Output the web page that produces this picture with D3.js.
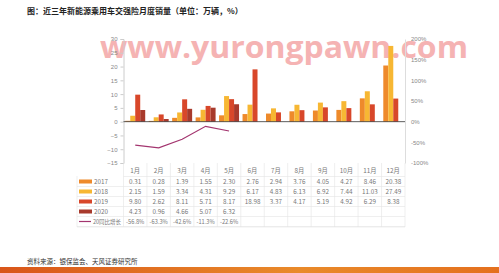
<!DOCTYPE html>
<html>
<head>
<meta charset="utf-8">
<script src="https://cdn.jsdelivr.net/npm/d3@7"></script>
<style>
  body { margin: 0; background: #fff; }
  svg { display: block; font-family: "Noto Sans CJK SC", "Noto Sans", sans-serif; }
</style>
</head>
<body>
<div id="chart"></div>
<script>
const months = ['1月','2月','3月','4月','5月','6月','7月','8月','9月','10月','11月','12月'];
const seriesNames = ['2017','2018','2019','2020'];
const sales2017 = [0.31,0.28,1.39,1.55,2.30,2.76,2.94,3.76,4.05,4.27,8.46,20.38];
const sales2018 = [2.15,1.59,3.34,4.31,9.29,6.17,4.83,6.13,6.92,7.44,11.03,27.49];
const sales2019 = [9.80,2.62,8.11,5.71,8.17,18.98,3.37,4.17,5.19,4.92,6.29,8.38];
const sales2020 = [4.23,0.96,4.66,5.07,6.32];
const growth2020 = [-56.8,-63.3,-42.6,-11.3,-22.6];
const leftTicks = [-15,-10,-5,0,5,10,15,20,25,30];
const rightTicks = [-100,-50,0,50,100,150,200];
const growthName = '20同比增长';

const colors = ['#EE8A2B','#F7B733','#D8472A','#A83A2C'];
const lineColor = '#A3356F';

const width = 499, height = 273;
const svg = d3.select('#chart').append('svg')
  .attr('width', width).attr('height', height);

// title
svg.append('text')
  .attr('x', 27).attr('y', 14)
  .attr('font-size', 8).attr('font-weight', 'bold').attr('fill', '#222')
  .text('图：近三年新能源乘用车交强险月度销量（单位：万辆，%）');

const plotLeft = 123.5, plotRight = 405, plotTop = 39, plotBottom = 163;

const x = d3.scaleBand().domain(months).range([plotLeft, plotRight]);
const xs = d3.scaleBand().domain(seriesNames).range([0, x.bandwidth()]).paddingOuter(0.35).paddingInner(0);
const y = d3.scaleLinear().domain([-15, 30]).range([plotBottom, plotTop]);
const y2 = d3.scaleLinear().domain([-100, 200]).range([plotBottom, plotTop]);

// watermark (drawn first so axis labels stay on top)
svg.append('text')
  .attr('x', 100).attr('y', 58)
  .attr('font-size', 31).attr('font-weight', 'bold').attr('fill', '#F29A9A').attr('opacity', 0.75)
  .attr('font-family', '"Open Sans", "Noto Sans", sans-serif')
  .attr('textLength', 368).attr('lengthAdjust', 'spacingAndGlyphs')
  .text('www.yurongpawn.com');

// left axis
const ga = svg.append('g').attr('transform', `translate(${plotLeft},0)`)
  .call(d3.axisLeft(y).tickValues(leftTicks).tickSize(3).tickPadding(3));
ga.select('.domain').attr('stroke', '#ccc');
ga.selectAll('.tick line').attr('stroke', '#ccc');
ga.selectAll('text').attr('font-size', 6).attr('fill', '#888');

// right axis
const gr = svg.append('g').attr('transform', `translate(${plotRight},0)`)
  .call(d3.axisRight(y2).tickValues(rightTicks).tickSize(0).tickPadding(6).tickFormat(d => d + '%'));
gr.select('.domain').attr('stroke', '#ddd');
gr.selectAll('text').attr('font-size', 6).attr('fill', '#888');

// bars
const allSeries = [sales2017, sales2018, sales2019, sales2020];
allSeries.forEach((vals, si) => {
  svg.append('g').selectAll('rect')
    .data(vals)
    .enter().append('rect')
    .attr('x', (d, i) => x(months[i]) + xs(seriesNames[si]))
    .attr('width', xs.bandwidth())
    .attr('y', d => y(Math.max(0, d)))
    .attr('height', d => Math.abs(y(d) - y(0)))
    .attr('fill', colors[si]);
});

// zero line
svg.append('line')
  .attr('x1', plotLeft).attr('x2', plotRight)
  .attr('y1', y(0)).attr('y2', y(0))
  .attr('stroke', '#333').attr('stroke-width', 0.8);

// growth line
const line = d3.line()
  .x((d, i) => x(months[i]) + x.bandwidth() / 2)
  .y(d => y2(d));
svg.append('path')
  .datum(growth2020)
  .attr('d', line)
  .attr('fill', 'none')
  .attr('stroke', lineColor)
  .attr('stroke-width', 1.2);

// data table
const tableLeft = 77, rowH = 10, tableTop = plotBottom + 2;
const rows = [
  {name: seriesNames[0], vals: sales2017, color: colors[0], fmt: d => d.toFixed(2)},
  {name: seriesNames[1], vals: sales2018, color: colors[1], fmt: d => d.toFixed(2)},
  {name: seriesNames[2], vals: sales2019, color: colors[2], fmt: d => d.toFixed(2)},
  {name: seriesNames[3], vals: sales2020, color: colors[3], fmt: d => d.toFixed(2)},
  {name: growthName, vals: growth2020, color: lineColor, fmt: d => d.toFixed(1) + '%', isLine: true}
];
const tbl = svg.append('g');
const gridColor = '#e4e4e4';
const tableBottom = tableTop + rowH * (rows.length + 1) + 2;

// vertical grid
months.forEach(m => {
  tbl.append('line')
    .attr('x1', x(m)).attr('x2', x(m))
    .attr('y1', plotBottom).attr('y2', tableBottom)
    .attr('stroke', gridColor).attr('stroke-width', 0.6);
});
tbl.append('line')
  .attr('x1', plotRight).attr('x2', plotRight)
  .attr('y1', plotBottom).attr('y2', tableBottom)
  .attr('stroke', gridColor).attr('stroke-width', 0.6);
tbl.append('line')
  .attr('x1', tableLeft).attr('x2', tableLeft)
  .attr('y1', tableTop + rowH + 1).attr('y2', tableBottom)
  .attr('stroke', gridColor).attr('stroke-width', 0.6);

// horizontal grid
d3.range(rows.length + 1).forEach(r => {
  const yy = tableTop + rowH * (r + 1) + 1.5;
  tbl.append('line')
    .attr('x1', r === 0 ? plotLeft : tableLeft).attr('x2', plotRight)
    .attr('y1', yy).attr('y2', yy)
    .attr('stroke', gridColor).attr('stroke-width', 0.6);
});
tbl.append('line')
  .attr('x1', tableLeft).attr('x2', plotRight)
  .attr('y1', tableBottom).attr('y2', tableBottom)
  .attr('stroke', gridColor).attr('stroke-width', 0.6);

// header
tbl.selectAll('.hdr').data(months).enter().append('text')
  .attr('x', d => x(d) + x.bandwidth() / 2)
  .attr('y', tableTop + rowH / 2 + 2.5)
  .attr('text-anchor', 'middle')
  .attr('font-size', 6.3).attr('fill', '#777')
  .text(d => d);

rows.forEach((row, r) => {
  const cy = tableTop + rowH * (r + 1) + rowH / 2 + 1.5;
  if (row.isLine) {
    tbl.append('line')
      .attr('x1', tableLeft + 2).attr('x2', tableLeft + 14)
      .attr('y1', cy).attr('y2', cy)
      .attr('stroke', row.color).attr('stroke-width', 1.2);
  } else {
    tbl.append('rect')
      .attr('x', tableLeft + 2).attr('y', cy - 2)
      .attr('width', 13).attr('height', 4)
      .attr('fill', row.color);
  }
  const lbl = tbl.append('text')
    .attr('x', tableLeft + (row.isLine ? 16 : 17)).attr('y', cy + 2.3)
    .attr('font-size', row.isLine ? 5.6 : 6.3).attr('fill', '#777')
    .text(row.name);
  if (row.isLine) lbl.attr('textLength', 28).attr('lengthAdjust', 'spacingAndGlyphs');
  tbl.selectAll(null).data(row.vals).enter().append('text')
    .attr('x', (d, i) => x(months[i]) + x.bandwidth() / 2)
    .attr('y', cy + 2.3)
    .attr('text-anchor', 'middle')
    .attr('font-size', row.isLine ? 5.7 : 6.3).attr('fill', '#777')
    .text(row.fmt);
});

// source
svg.append('text')
  .attr('x', 27).attr('y', 264)
  .attr('font-size', 6.5).attr('fill', '#333')
  .text('资料来源：银保监会、天风证券研究所');

// bottom band
const grad = svg.append('defs').append('linearGradient').attr('id', 'band');
grad.append('stop').attr('offset', '0%').attr('stop-color', '#D9561A');
grad.append('stop').attr('offset', '60%').attr('stop-color', '#E98A2A');
grad.append('stop').attr('offset', '100%').attr('stop-color', '#E4701E');
svg.append('rect')
  .attr('x', 0).attr('y', 267).attr('width', width).attr('height', 6)
  .attr('fill', 'url(#band)');
</script>
</body>
</html>
